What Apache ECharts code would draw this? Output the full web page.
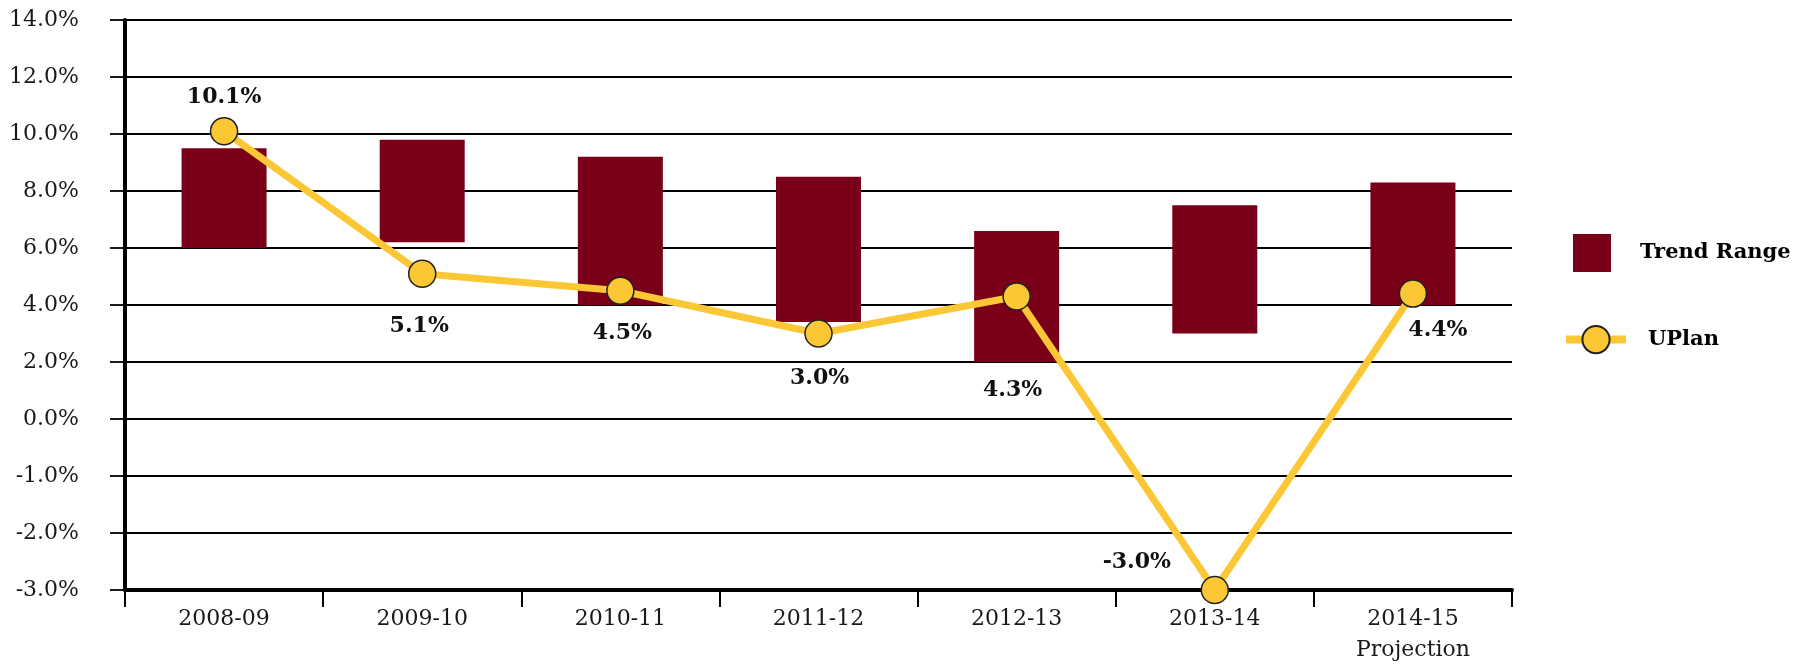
<!DOCTYPE html>
<html>
<head>
<meta charset="utf-8">
<script src="https://cdn.jsdelivr.net/npm/echarts@6/dist/echarts.min.js"></script>
<style>
  html, body { margin: 0; padding: 0; background: #fff; }
  #chart { width: 1802px; height: 666px; }
</style>
</head>
<body>
<div id="chart"></div>
<script>
// ---- data ----
const categories = ['2008-09', '2009-10', '2010-11', '2011-12', '2012-13', '2013-14', '2014-15\nProjection'];
const trendLow  = [6.0, 6.2, 4.0, 3.4, 2.0, 3.0, 4.0];
const trendHigh = [9.5, 9.8, 9.2, 8.5, 6.6, 7.5, 8.3];
const uplan     = [10.1, 5.1, 4.5, 3.0, 4.3, -3.0, 4.4];
// y-axis tick values (the original axis is evenly spaced per tick, not per value)
const yTicks = [-3, -2, -1, 0, 2, 4, 6, 8, 10, 12, 14];

// piecewise-linear mapping of a value onto the tick-index axis
function toAxis(v) {
  for (let i = 0; i < yTicks.length - 1; i++) {
    const a = yTicks[i], b = yTicks[i + 1];
    if (v <= b || i === yTicks.length - 2) return i + (v - a) / (b - a);
  }
}

const FONT = '"DejaVu Serif", "Liberation Serif", serif';
const MAROON = '#7A0019';
const GOLD = '#FBC734';

// label placement (style only)
const labelOffsets = [[0, -34], [-3, 53], [2, 43], [1, 45], [-4, 94], [-78, -28], [25, 37]];

const baseData = trendLow.map(toAxis);
const rangeData = trendHigh.map((h, i) => toAxis(h) - toAxis(trendLow[i]));
const lineData = uplan.map((v, i) => ({
  value: toAxis(v),
  label: { offset: labelOffsets[i] }
}));

const chart = echarts.init(document.getElementById('chart'), null, { renderer: 'canvas' });
chart.setOption({
  animation: false,
  backgroundColor: '#fff',
  grid: { left: 125, right: 290, top: 20, bottom: 71, containLabel: false },
  legend: [
    {
      data: [{ name: 'Trend Range', icon: 'rect' }],
      left: 1573, top: 234, padding: 0,
      itemWidth: 38, itemHeight: 38,
      selectedMode: false,
      textStyle: { fontFamily: FONT, fontWeight: 'bold', fontSize: 21, color: '#000', padding: [0, 0, 0, 24] }
    },
    {
      data: ['UPlan'],
      left: 1562, top: 325, padding: 0,
      itemWidth: 60, itemHeight: 34,
      selectedMode: false,
      lineStyle: { width: 8 },
      textStyle: { fontFamily: FONT, fontWeight: 'bold', fontSize: 21, color: '#000', padding: [0, 0, 0, 17] }
    }
  ],
  xAxis: {
    type: 'category',
    data: categories,
    boundaryGap: true,
    axisLine: { show: true, lineStyle: { color: '#000', width: 4 } },
    axisTick: { show: true, length: 17, alignWithLabel: false, lineStyle: { color: '#000', width: 2 } },
    axisLabel: { fontFamily: FONT, fontSize: 22, color: '#1a1a1a', margin: 14, lineHeight: 31 },
    splitLine: { show: false }
  },
  yAxis: {
    type: 'value',
    min: 0, max: yTicks.length - 1, interval: 1,
    axisLine: { show: true, lineStyle: { color: '#000', width: 4 } },
    axisTick: { show: true, length: 15, lineStyle: { color: '#000', width: 1.8 } },
    axisLabel: {
      fontFamily: FONT, fontSize: 22, color: '#1a1a1a', margin: 46,
      formatter: function (t) { return yTicks[Math.round(t)].toFixed(1) + '%'; }
    },
    splitLine: { show: true, lineStyle: { color: '#000', width: 1.8 } }
  },
  series: [
    {
      name: 'base', type: 'bar', stack: 'range', barWidth: 85, silent: true,
      itemStyle: { color: 'transparent' },
      data: baseData
    },
    {
      name: 'Trend Range', type: 'bar', stack: 'range', barWidth: 85,
      itemStyle: { color: MAROON },
      data: rangeData
    },
    {
      name: 'UPlan', type: 'line', z: 5,
      symbol: 'circle', symbolSize: 27,
      lineStyle: { color: GOLD, width: 7 },
      itemStyle: { color: GOLD, borderColor: '#222', borderWidth: 1.5 },
      label: {
        show: true, position: 'inside',
        fontFamily: FONT, fontWeight: 'bold', fontSize: 22, color: '#111',
        formatter: function (p) { return uplan[p.dataIndex].toFixed(1) + '%'; }
      },
      data: lineData
    }
  ]
});
</script>
</body>
</html>
